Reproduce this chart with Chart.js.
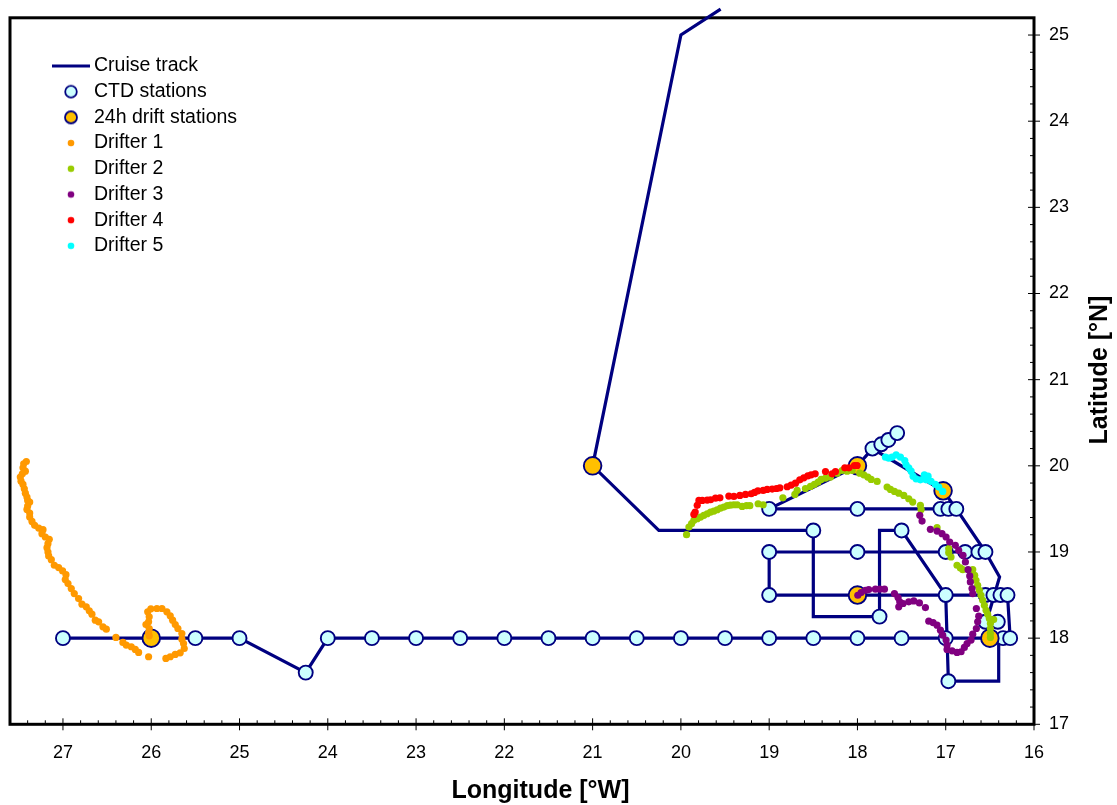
<!DOCTYPE html>
<html>
<head>
<meta charset="utf-8">
<style>html,body{margin:0;padding:0;background:#fff}#w{position:relative;width:1117px;height:805px}</style>
<script src="https://cdn.jsdelivr.net/npm/chart.js@4"></script>
</head>
<body>
<div id="w"><canvas id="c" width="1117" height="805"></canvas></div>
<script>
const seriesNames = ['Cruise track','CTD stations','24h drift stations','Drifter 1','Drifter 2','Drifter 3','Drifter 4','Drifter 5'];
const xAxisTitle = 'Longitude [°W]';
const yAxisTitle = 'Latitude [°N]';

const cruiseTrack = [[19.55,25.3],[20,25],[21,20],[20.25,19.25],[18.5,19.25],[18.5,18.25],[17.75,18.25],[17.75,19.25],[17.5,19.25],[17,18.5],[16.97,17.5],[16.4,17.5],[16.4,18],[16.27,18],[16.3,18.5],[19,18.5],[19,19],[16.55,19],[16.88,19.5],[19,19.5],[18,20],[17.83,20.2],[17.55,20.38],[17.83,20.2],[17.03,19.71],[16.88,19.5],[16.55,19],[16.39,18.71],[16.51,18.29],[16.55,18.19],[16.41,18.19],[16.55,18.19],[16.5,18],[24,18],[24.25,17.6],[25,18],[27,18]];

const ctdStations = [[27,18],[25.5,18],[25,18],[24,18],[23.5,18],[23,18],[22.5,18],[22,18],[21.5,18],[21,18],[20.5,18],[20,18],[19.5,18],[19,18],[18.5,18],[18,18],[17.5,18],[17,18],[16.35,18],[16.27,18],[24.25,17.6],[16.97,17.5],[19,18.5],[17,18.5],[16.55,18.5],[16.46,18.5],[16.38,18.5],[16.3,18.5],[16.55,18.19],[16.41,18.19],[17.75,18.25],[19,19],[18,19],[17,19],[16.78,19],[16.63,19],[16.55,19],[18.5,19.25],[17.5,19.25],[19,19.5],[18,19.5],[17.06,19.5],[16.97,19.5],[16.88,19.5],[17.83,20.2],[17.73,20.25],[17.65,20.3],[17.55,20.38]];

const driftStations = [[21,20],[18,20],[17.03,19.71],[26,18],[18,18.5],[16.5,18]];

const drifter1 = [[27.415,20.05],[27.445,20.023],[27.453,19.977],[27.426,19.938],[27.46,19.907],[27.483,19.869],[27.475,19.822],[27.453,19.784],[27.438,19.734],[27.426,19.683],[27.408,19.637],[27.4,19.598],[27.377,19.579],[27.4,19.533],[27.408,19.494],[27.377,19.452],[27.377,19.405],[27.351,19.355],[27.321,19.309],[27.275,19.278],[27.226,19.259],[27.238,19.212],[27.2,19.174],[27.155,19.147],[27.17,19.097],[27.181,19.05],[27.17,19.0],[27.162,18.954],[27.132,18.911],[27.098,18.846],[27.049,18.819],[27.004,18.78],[26.966,18.737],[26.974,18.68],[26.943,18.633],[26.906,18.575],[26.872,18.517],[26.823,18.459],[26.785,18.394],[26.736,18.363],[26.702,18.317],[26.672,18.278],[26.634,18.208],[26.596,18.189],[26.547,18.131],[26.509,18.104],[26.4,18.008],[26.321,17.95],[26.283,17.919],[26.226,17.9],[26.181,17.869],[26.143,17.834],[26.03,17.784],[25.834,17.764],[25.785,17.784],[25.728,17.811],[25.672,17.83],[25.626,17.88],[25.634,17.938],[25.653,17.988],[25.653,18.054],[25.698,18.112],[25.728,18.158],[25.758,18.208],[25.785,18.259],[25.823,18.305],[25.879,18.344],[25.936,18.344],[26.004,18.34],[26.04,18.305],[26.023,18.247],[26.03,18.189],[26.06,18.158],[26.023,18.112],[26.03,18.062],[26.023,18.027]];

const drifter2 = [[19.936,19.201],[19.909,19.29],[19.879,19.328],[19.853,19.367],[19.815,19.386],[19.777,19.405],[19.74,19.425],[19.702,19.444],[19.664,19.463],[19.626,19.475],[19.589,19.49],[19.551,19.51],[19.513,19.521],[19.475,19.537],[19.438,19.544],[19.4,19.548],[19.362,19.548],[19.306,19.529],[19.257,19.537],[19.219,19.537],[19.125,19.56],[19.068,19.548],[18.845,19.629],[18.709,19.668],[18.683,19.714],[18.589,19.737],[18.532,19.761],[18.487,19.784],[18.445,19.811],[18.411,19.842],[18.362,19.857],[18.306,19.869],[18.23,19.915],[18.174,19.946],[18.117,19.938],[18.06,19.946],[17.974,19.915],[17.928,19.896],[17.883,19.869],[17.845,19.842],[17.777,19.819],[17.664,19.753],[17.626,19.726],[17.581,19.703],[17.532,19.683],[17.475,19.656],[17.419,19.618],[17.374,19.579],[17.287,19.541],[17.279,19.494],[17.098,19.282],[16.966,19.039],[16.966,18.992],[16.94,18.942],[16.872,18.846],[16.834,18.815],[16.807,18.795],[16.694,18.795],[16.672,18.73],[16.657,18.672],[16.638,18.614],[16.619,18.556],[16.6,18.498],[16.581,18.44],[16.562,18.382],[16.543,18.324],[16.525,18.278],[16.506,18.228],[16.457,18.216],[16.494,18.17],[16.494,18.112],[16.494,18.054],[16.494,18.008]];

const drifter3 = [[17.996,18.498],[17.958,18.529],[17.909,18.556],[17.872,18.564],[17.796,18.568],[17.747,18.568],[17.694,18.568],[17.581,18.517],[17.54,18.471],[17.521,18.421],[17.532,18.363],[17.483,18.402],[17.419,18.421],[17.362,18.432],[17.298,18.409],[17.23,18.355],[17.192,18.197],[17.143,18.181],[17.098,18.151],[17.06,18.093],[17.034,18.035],[16.996,17.977],[16.985,17.919],[16.985,17.869],[16.928,17.853],[16.872,17.834],[16.826,17.842],[16.789,17.892],[16.758,17.938],[16.713,17.977],[16.694,18.046],[16.653,18.112],[16.638,18.189],[16.626,18.255],[16.653,18.344],[16.694,18.517],[16.702,18.575],[16.721,18.653],[16.728,18.722],[16.747,18.795],[16.777,18.884],[16.804,18.961],[16.853,19.019],[16.891,19.077],[16.955,19.116],[16.996,19.174],[17.042,19.212],[17.098,19.243],[17.174,19.263],[17.268,19.359],[17.294,19.425]];

const drifter4 = [[19.853,19.436],[19.838,19.463],[19.815,19.541],[19.796,19.598],[19.758,19.598],[19.702,19.602],[19.664,19.606],[19.608,19.625],[19.558,19.629],[19.457,19.649],[19.4,19.645],[19.332,19.656],[19.268,19.668],[19.204,19.676],[19.166,19.691],[19.128,19.71],[19.068,19.714],[19.023,19.726],[18.966,19.73],[18.917,19.737],[18.879,19.745],[18.796,19.757],[18.751,19.776],[18.702,19.799],[18.653,19.838],[18.608,19.861],[18.562,19.884],[18.525,19.896],[18.479,19.907],[18.362,19.934],[18.287,19.907],[18.249,19.934],[18.143,19.977],[18.098,19.977],[18.034,20.004],[18.004,20.004]];

const drifter5 = [[17.683,20.1],[17.645,20.089],[17.608,20.1],[17.562,20.127],[17.513,20.1],[17.464,20.062],[17.449,20.012],[17.419,19.977],[17.392,19.938],[17.37,19.88],[17.336,19.849],[17.287,19.838],[17.242,19.896],[17.2,19.88],[17.223,19.838],[17.166,19.819],[17.117,19.784],[17.079,19.753],[17.034,19.703]];

const xMin = 16, xMax = 27.6, yMin = 17, yMax = 25.2, tickStep = 0.2;

const NAVY = '#000080';
const toXY = a => a.map(p => ({x:p[0], y:p[1]}));

function markerCanvas(draw){
  const m = document.createElement('canvas');
  m.width = 40; m.height = 20;
  draw(m.getContext('2d'));
  return m;
}
function dot(r, fill, stroke, lw){
  return markerCanvas(g => {
    g.beginPath(); g.arc(20,10,r,0,Math.PI*2);
    g.fillStyle = fill; g.fill();
    if (stroke){ g.lineWidth = lw; g.strokeStyle = stroke; g.stroke(); }
  });
}
const legendMarkers = [
  markerCanvas(g => { g.strokeStyle = NAVY; g.lineWidth = 3; g.beginPath(); g.moveTo(1,10); g.lineTo(39,10); g.stroke(); }),
  dot(5.8,'#CCFFFF',NAVY,1.8),
  dot(6,'#FFC000',NAVY,1.8),
  dot(3.3,'#FF9900'),
  dot(3.3,'#99CC00'),
  dot(3.3,'#800080'),
  dot(3.3,'#FF0000'),
  dot(3.3,'#00FFFF')
];

const drifterDS = (i, data, color) => ({
  label: seriesNames[i], data: toXY(data), order: 8 - i,
  backgroundColor: color, borderColor: color, pointRadius: 3.6, pointBorderWidth: 0, pointHoverRadius: 3.6, showLine:false
});

const isInt = v => Math.abs(v - Math.round(v)) < 1e-6;

const frame = {
  id:'frame',
  afterLayout(chart){
    chart.legend.left = 51.55;
    chart.legend.top = 50;
  },
  beforeDatasetsDraw(chart){
    const {ctx, chartArea:a, scales:{x,y}} = chart;
    ctx.save();
    ctx.strokeStyle = '#000';
    ctx.lineWidth = 1;
    ctx.beginPath();
    x.ticks.forEach((t,i) => {
      const px = x.getPixelForTick(i);
      ctx.moveTo(px, a.bottom - (isInt(t.value) ? 6 : 4));
      ctx.lineTo(px, a.bottom + (isInt(t.value) ? 6 : 0));
    });
    y.ticks.forEach((t,i) => {
      const py = y.getPixelForTick(i);
      ctx.moveTo(a.right - (isInt(t.value) ? 6 : 4), py);
      ctx.lineTo(a.right + (isInt(t.value) ? 6 : 0), py);
    });
    ctx.stroke();
    ctx.lineWidth = 3;
    ctx.strokeRect(a.left, a.top, a.right - a.left, a.bottom - a.top);
    ctx.restore();
  },
  afterDraw(chart){
    const {ctx} = chart;
    ctx.save();
    ctx.fillStyle = '#000';
    ctx.font = 'bold 25px "Liberation Sans"';
    ctx.textAlign = 'center';
    ctx.textBaseline = 'middle';
    ctx.fillText(xAxisTitle, 540.5, 791);
    ctx.translate(1100, 370);
    ctx.rotate(-Math.PI/2);
    ctx.fillText(yAxisTitle, 0, 0);
    ctx.restore();
  }
};

new Chart(document.getElementById('c'), {
  type:'scatter',
  plugins:[frame],
  data:{datasets:[
    {label:seriesNames[0], data:toXY(cruiseTrack), showLine:true, borderColor:NAVY, borderWidth:3.2, pointRadius:0, pointHoverRadius:0, clip:false, order:8, tension:0, borderJoinStyle:'miter'},
    {label:seriesNames[1], data:toXY(ctdStations), backgroundColor:'#CCFFFF', borderColor:NAVY, pointRadius:7, pointBorderWidth:1.9, pointHoverRadius:7, order:7},
    {label:seriesNames[2], data:toXY(driftStations), backgroundColor:'#FFC000', borderColor:NAVY, pointRadius:8.8, pointBorderWidth:1.9, pointHoverRadius:8.8, order:6},
    drifterDS(3, drifter1, '#FF9900'),
    drifterDS(4, drifter2, '#99CC00'),
    drifterDS(5, drifter3, '#800080'),
    drifterDS(6, drifter4, '#FF0000'),
    drifterDS(7, drifter5, '#00FFFF')
  ]},
  options:{
    responsive:false,
    animation:false,
    events:[],
    layout:{autoPadding:false, padding:{left:2, top:6, right:0, bottom:0}},
    plugins:{
      tooltip:{enabled:false},
      title:{display:false},
      legend:{
        display:true,
        position:'chartArea',
        align:'start',
        labels:{
          usePointStyle:true,
          pointStyleWidth:26.5,
          padding:6.2,
          color:'#000',
          font:{family:'"Liberation Sans"', size:19.5},
          generateLabels:(chart) => chart.data.datasets.map((d,i) => ({
            text:d.label, pointStyle:legendMarkers[i], datasetIndex:i, hidden:false, lineWidth:0, fillStyle:'transparent', strokeStyle:'transparent', fontColor:'#000'
          }))
        }
      }
    },
    scales:{
      x:{
        type:'linear', position:'bottom', reverse:true, min:xMin, max:xMax,
        afterFit(s){ s.height = 80.7; },
        grid:{display:false},
        border:{display:false},
        ticks:{
          stepSize:tickStep, autoSkip:false, maxRotation:0, minRotation:0, padding:10, color:'#000',
          font:{family:'"Liberation Sans"', size:18},
          callback:v => isInt(v) ? String(Math.round(v)) : ''
        }
      },
      y:{
        type:'linear', position:'right', min:yMin, max:yMax,
        afterFit(s){ s.width = 83; },
        grid:{display:false},
        border:{display:false},
        ticks:{
          stepSize:tickStep, autoSkip:false, padding:7, color:'#000',
          font:{family:'"Liberation Sans"', size:18},
          callback:v => isInt(v) ? String(Math.round(v)) : ''
        }
      }
    }
  }
});
</script>
</body>
</html>
